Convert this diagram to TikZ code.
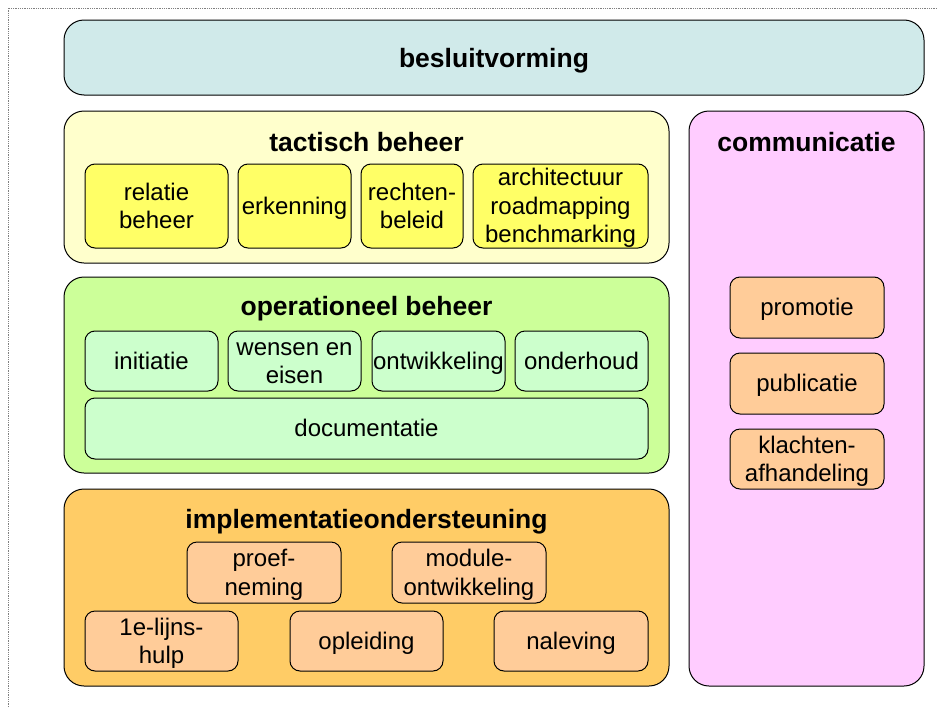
\documentclass[tikz,border=0pt]{standalone}
\usepackage{fontspec}
\setmainfont{Liberation Sans}
\definecolor{besluitfill}{RGB}{208,234,234}
\definecolor{tactfill}{RGB}{255,255,204}
\definecolor{tactitem}{RGB}{255,255,102}
\definecolor{operfill}{RGB}{204,255,153}
\definecolor{operitem}{RGB}{204,255,204}
\definecolor{implfill}{RGB}{255,204,102}
\definecolor{implitem}{RGB}{255,204,153}
\definecolor{commfill}{RGB}{255,204,255}
\newcommand{\linestrut}{\rule[-5.1pt]{0pt}{26.8pt}}
\newcommand{\boxtext}[1]{\linestrut#1\linestrut}
\tikzset{
	area/.style={draw,line width=1pt,rounded corners=20pt,inner sep=0pt},
	item/.style={draw,line width=1pt,rounded corners=10pt,inner sep=0pt,align=center,
		font=\fontsize{24}{28.5}\selectfont},
	areatitle/.style={font=\fontsize{26.5}{31}\selectfont\bfseries,inner sep=0pt}
}
\begin{document}
\begin{tikzpicture}[x=1pt,y=-1pt]
				\useasboundingbox (0,0) rectangle (937,707);
				\draw[gray,densely dotted,line width=0.8pt] (8,707) -- (8,8) -- (937,8); % page frame
				\node[area,fill=besluitfill,minimum width=860pt,minimum height=75pt] (besluit) at (494,57.5) {}; % top
				\node[areatitle] (besluitT) at (494,61) {besluitvorming};
				\node[area,fill=tactfill,minimum width=605pt,minimum height=152pt] (tactisch) at (366.5,187) {}; % T
				\node[areatitle] (tactischT) at (366.5,142) {tactisch beheer};
				\node[item,fill=tactitem,minimum width=143pt,minimum height=84pt] (relatie) at (156.5,206) {\boxtext{relatie\\beheer}}; % T1
				\node[item,fill=tactitem,minimum width=113pt,minimum height=84pt] (erkenning) at (294.5,206) {\boxtext{erkenning}}; % T2
				\node[item,fill=tactitem,minimum width=102pt,minimum height=84pt] (rechten) at (412,206) {\boxtext{rechten-\\beleid}}; % T3
				\node[item,fill=tactitem,minimum width=175pt,minimum height=84pt] (architectuur) at (560.5,206) {\boxtext{architectuur\\roadmapping\\benchmarking}}; % T4
				\node[area,fill=operfill,minimum width=605pt,minimum height=196pt] (operationeel) at (366.5,375) {}; % O
				\node[areatitle] (operationeelT) at (366.5,309) {operationeel beheer};
				\node[item,fill=operitem,minimum width=133pt,minimum height=60pt] (initiatie) at (151.5,361) {\boxtext{initiatie}}; % O1
				\node[item,fill=operitem,minimum width=133pt,minimum height=60pt] (wensen) at (294.5,361) {\boxtext{wensen en\\eisen}}; % O2
				\node[item,fill=operitem,minimum width=133pt,minimum height=60pt] (ontwikkeling) at (438.5,361) {\boxtext{ontwikkeling}}; % O3
				\node[item,fill=operitem,minimum width=133pt,minimum height=60pt] (onderhoud) at (581.5,361) {\boxtext{onderhoud}}; % O4
				\node[item,fill=operitem,minimum width=563pt,minimum height=61pt] (documentatie) at (366.5,428.5) {\boxtext{documentatie}}; % O5
				\node[area,fill=implfill,minimum width=605pt,minimum height=197pt] (implementatie) at (366.5,587.5) {}; % I
				\node[areatitle] (implementatieT) at (366.5,522) {implementatieondersteuning};
				\node[item,fill=implitem,minimum width=154pt,minimum height=61pt] (proef) at (264,572.5) {\boxtext{proef-\\neming}}; % I1
				\node[item,fill=implitem,minimum width=154pt,minimum height=61pt] (module) at (469,572.5) {\boxtext{module-\\ontwikkeling}}; % I2
				\node[item,fill=implitem,minimum width=153pt,minimum height=60pt] (eerstelijn) at (161.5,641) {\boxtext{1e-lijns-\\hulp}}; % I3
				\node[item,fill=implitem,minimum width=153pt,minimum height=60pt] (opleiding) at (366.5,641) {\boxtext{opleiding}}; % I4
				\node[item,fill=implitem,minimum width=154pt,minimum height=60pt] (naleving) at (571,641) {\boxtext{naleving}}; % I5
				\node[area,fill=commfill,minimum width=235pt,minimum height=575pt] (communicatie) at (806.5,398.5) {}; % C
				\node[areatitle] (communicatieT) at (806.5,142) {communicatie};
				\node[item,fill=implitem,minimum width=154pt,minimum height=61pt] (promotie) at (807,307.5) {\boxtext{promotie}}; % C1
				\node[item,fill=implitem,minimum width=154pt,minimum height=61pt] (publicatie) at (807,383.5) {\boxtext{publicatie}}; % C2
				\node[item,fill=implitem,minimum width=154pt,minimum height=60pt] (klachten) at (807,459) {\boxtext{klachten-\\afhandeling}}; % C3
			\end{tikzpicture}
\end{document}
